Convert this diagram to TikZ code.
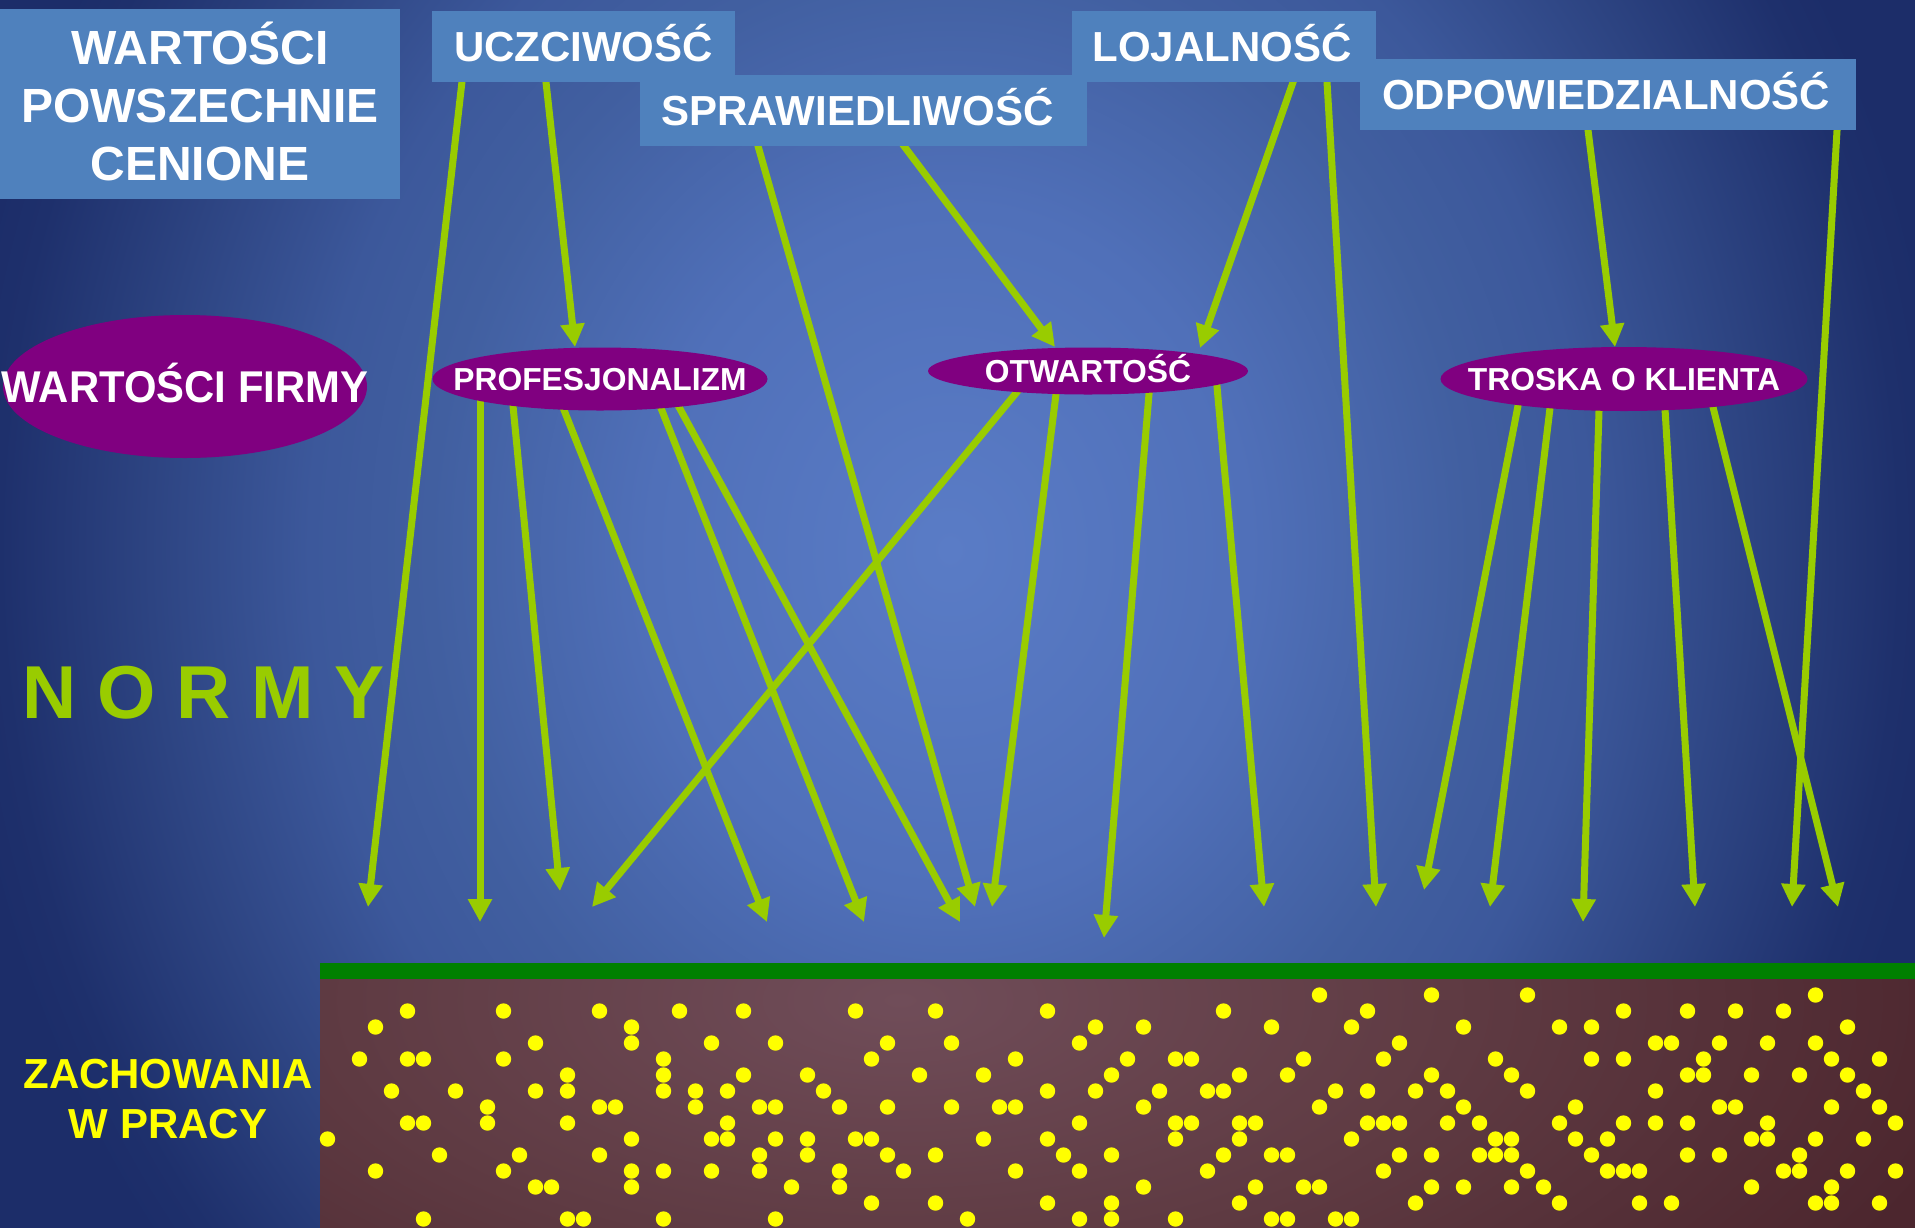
\documentclass[tikz,border=0pt]{standalone}
\usepackage{fontspec}
\usepackage{graphicx}
\setmainfont{Liberation Sans}
\usetikzlibrary{arrows.meta,shapes.geometric,calc}

% palette
\definecolor{boxblue}{RGB}{79,129,189}
\definecolor{purp}{RGB}{128,0,128}
\definecolor{lime}{RGB}{153,204,0}
\definecolor{grass}{RGB}{0,128,0}
\definecolor{dotyellow}{RGB}{255,255,0}
\definecolor{skyA}{RGB}{90,124,198}
\definecolor{skyB}{RGB}{80,112,185}
\definecolor{skyC}{RGB}{65,95,160}
\definecolor{skyD}{RGB}{60,88,155}
\definecolor{skyE}{RGB}{45,68,130}
\definecolor{skyF}{RGB}{30,48,108}
\definecolor{skyG}{RGB}{28,45,105}
\definecolor{soilA}{RGB}{112,77,89}
\definecolor{soilB}{RGB}{95,59,67}
\definecolor{soilC}{RGB}{76,38,46}

% glows: 25bp reaches the middle of each side of the shaded rectangle
\pgfdeclareradialshading{skyglow}{\pgfpoint{0bp}{0bp}}{%
  color(0bp)=(skyA); color(7.5bp)=(skyB); color(13bp)=(skyC);
  color(16bp)=(skyD); color(20bp)=(skyE); color(23.75bp)=(skyF);
  color(25bp)=(skyG); color(50bp)=(skyG)}
\pgfdeclareradialshading{soilglow}{\pgfpoint{0bp}{0bp}}{%
  color(0bp)=(soilA); color(12.5bp)=(soilB); color(25bp)=(soilC); color(50bp)=(soilC)}

\pgfdeclarelayer{back}
\pgfdeclarelayer{links}
\pgfsetlayers{back,links,main}

% one line of capitals, centred on its cap height, taking no room;
% the optional argument moves it sideways
\newcommand\capmid[2][0pt]{\makebox[0pt]{\raisebox{-0.358em}[0pt][0pt]{\hspace*{#1}\hspace*{#1}#2}}}

\tikzset{
  valbox/.style={rectangle, fill=boxblue, inner sep=0pt, text=white,
    font=\bfseries\fontsize{42}{50}\selectfont},
  valoval/.style={ellipse, fill=purp, inner sep=0pt, text=white,
    font=\bfseries\fontsize{31.8}{36}\selectfont},
  valarrow/.style={draw=lime, line width=7pt,
    -{Triangle[length=23pt,width=23pt]}},
  dot/.style={fill=dotyellow}
}

\begin{document}
\begin{tikzpicture}[x=1pt,y=-1pt]
\useasboundingbox (0,0) rectangle (1915,1227);

% ---------- backdrop, ground strip and dots ----------
\begin{pgfonlayer}{back}
  \begin{scope}
    \clip (0,0) rectangle (1915,1227);
    \shade[shading=skyglow] (-50,-595) rectangle (1950,1695);
  \end{scope}
  \fill[grass] (320,963) rectangle (1915,979);
  \begin{scope}
    \clip (320,979) rectangle (1915,1227);
    \shade[shading=soilglow] (-200,500) rectangle (2000,1500);
  \end{scope}
  \foreach \r/\cols in {
     0/{62,69,75,93},
     1/{5,11,17,22,26,33,38,45,56,65,81,85,88,91},
     2/{3,19,48,51,59,64,71,77,79,95},
     3/{13,19,24,28,35,39,47,67,83,84,87,90,93},
     4/{2,5,6,11,21,34,43,50,53,54,61,66,73,79,81,86,94,97},
     5/{15,21,26,30,37,41,49,57,60,69,74,85,86,89,92,95},
     6/{4,8,13,15,21,23,25,31,45,48,52,55,56,63,65,68,70,75,83,96},
     7/{10,17,18,23,27,28,32,35,39,42,43,51,62,71,78,87,88,94,97},
     8/{5,6,10,15,25,47,53,54,57,58,65,66,67,70,72,77,81,83,85,90,98},
     9/{0,19,24,25,28,30,33,34,41,45,53,57,64,73,74,78,80,89,90,93,96},
    10/{7,12,17,27,30,35,38,46,49,56,59,60,67,69,72,73,74,79,85,87,92},
    11/{3,11,19,21,24,27,32,36,43,47,55,66,75,80,81,82,91,92,95,98},
    12/{13,14,19,29,32,51,58,61,62,69,71,74,76,89,94},
    13/{34,38,45,49,57,68,77,82,84,93,94,97},
    14/{6,15,16,21,28,40,47,49,53,59,60,63,64}}
  {
    \foreach \c in \cols
      \fill[dot] (327.5+16*\c, 995+16*\r) circle[radius=7.7];
  }
\end{pgfonlayer}

% ---------- universal values ----------
\node[valbox, minimum width=400, minimum height=190,
      font=\bfseries\fontsize{48}{58}\selectfont] (pow) at (200,104)
  {\makebox[0pt]{\raisebox{40pt}[0pt][0pt]{%
     \begin{tabular}[t]{@{}c@{}}WARTOŚCI\\POWSZECHNIE\\CENIONE\end{tabular}}}};
\node[valbox, minimum width=303, minimum height=71] (ucz) at (583.5,46.5) {\capmid{UCZCIWOŚĆ}};
\node[valbox, minimum width=447, minimum height=71] (spr) at (863.5,110.5) {\capmid[-6pt]{SPRAWIEDLIWOŚĆ}};
\node[valbox, minimum width=304, minimum height=71] (loj) at (1224,46.5) {\capmid[-2pt]{LOJALNOŚĆ}};
\node[valbox, minimum width=496, minimum height=71] (odp) at (1608,94.5) {\capmid[-2pt]{ODPOWIEDZIALNOŚĆ}};

% ---------- company values ----------
\node[valoval, minimum width=364, minimum height=143,
      font=\bfseries\fontsize{44.5}{50}\selectfont] (firmy) at (185,386.5)
  {\capmid{\scalebox{0.94}[1]{WARTOŚCI FIRMY}}};
\node[valoval, minimum width=335, minimum height=63] (prof) at (600,379) {\capmid{PROFESJONALIZM}};
\node[valoval, minimum width=320, minimum height=47] (otw) at (1088,371) {\capmid{OTWARTOŚĆ}};
\node[valoval, minimum width=367, minimum height=64] (tros) at (1624,379) {\capmid{TROSKA O KLIENTA}};

% ---------- side captions ----------
\node[anchor=base west, inner sep=0pt, text=lime,
      font=\bfseries\fontsize{75}{90}\selectfont] (normy) at (22,718) {N O R M Y};
\node[anchor=base, inner sep=0pt, text=dotyellow,
      font=\bfseries\fontsize{42}{50}\selectfont] (zach) at (168,1088)
  {\begin{tabular}[t]{@{}c@{}}ZACHOWANIA\\W PRACY\end{tabular}};

% ---------- arrow ends ----------
\coordinate (t1) at (368,907);
\coordinate (t2) at (575,347);
\coordinate (t3) at (975,907);
\coordinate (t4) at (1055,347);
\coordinate (t5) at (1200,348);
\coordinate (t6) at (1376,907);
\coordinate (t7) at (1615,347);
\coordinate (t8) at (1792,907);
\coordinate (t9) at (480,922);
\coordinate (t10) at (560,891);
\coordinate (t11) at (767,922);
\coordinate (t12) at (864,922);
\coordinate (t13) at (960,922);
\coordinate (t14) at (592,907);
\coordinate (t15) at (992,907);
\coordinate (t16) at (1104,938);
\coordinate (t17) at (1264,907);
\coordinate (t18) at (1424,890);
\coordinate (t19) at (1490,907);
\coordinate (t20) at (1583,922);
\coordinate (t21) at (1695,907);
\coordinate (t22) at (1838,907);

% ---------- arrows (drawn beneath the shapes they leave) ----------
\begin{pgfonlayer}{links}
  \draw[valarrow] ($(ucz.center)+(-117.5,0)$) -- (t1);
  \draw[valarrow] ($(ucz.center)+(-41.4,0)$) -- (t2);
  \draw[valarrow] ($(spr.center)+(-115.6,0)$) -- (t3);
  \draw[valarrow] ($(spr.center)+(13.8,0)$) -- (t4);
  \draw[valarrow] ($(loj.center)+(81.5,0)$) -- (t5);
  \draw[valarrow] ($(loj.center)+(100.9,0)$) -- (t6);
  \draw[valarrow] ($(odp.center)+(-24.4,0)$) -- (t7);
  \draw[valarrow] ($(odp.center)+(231.1,0)$) -- (t8);
  \draw[valarrow] ($(prof.center)+(-120,0)$) -- (t9);
  \draw[valarrow] ($(prof.center)+(-89.6,0)$) -- (t10);
  \draw[valarrow] ($(prof.center)+(-48.3,0)$) -- (t11);
  \draw[valarrow] ($(prof.center)+(49.5,0)$) -- (t12);
  \draw[valarrow] ($(prof.center)+(63.7,0)$) -- (t13);
  \draw[valarrow] ($(otw.center)+(-53.7,0)$) -- (t14);
  \draw[valarrow] ($(otw.center)+(-29.1,0)$) -- (t15);
  \draw[valarrow] ($(otw.center)+(62.9,0)$) -- (t16);
  \draw[valarrow] ($(otw.center)+(127.6,0)$) -- (t17);
  \draw[valarrow] ($(tros.center)+(-100.8,0)$) -- (t18);
  \draw[valarrow] ($(tros.center)+(-70.5,0)$) -- (t19);
  \draw[valarrow] ($(tros.center)+(-24,0)$) -- (t20);
  \draw[valarrow] ($(tros.center)+(39.2,0)$) -- (t21);
  \draw[valarrow] ($(tros.center)+(82,0)$) -- (t22);
\end{pgfonlayer}
\end{tikzpicture}
\end{document}
